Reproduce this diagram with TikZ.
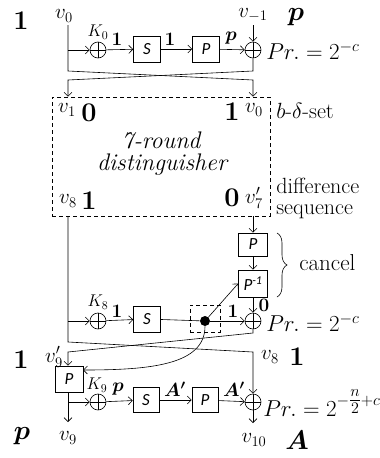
\RequirePackage{fix-cm}
\documentclass[tikz,border=0pt]{standalone}
\usepackage{amsmath,bm}
\usepackage{fontspec}
\newfontfamily\carlito{Carlito}
\usetikzlibrary{arrows.meta,decorations.pathreplacing}
\newcommand\myfs[1]{\fontsize{#1}{#1}\selectfont}
\begin{document}
\begin{tikzpicture}[x=1pt,y=-1pt,
  line width=0.6pt,
  arr/.style={-{Straight Barb[length=4pt,width=8pt]}},
  box/.style={draw, minimum width=27pt, minimum height=26pt, inner sep=0pt, font=\carlito\itshape\myfs{17}},
  xorn/.style={draw, circle, minimum size=16pt, inner sep=0pt,
    path picture={\draw (path picture bounding box.north)--(path picture bounding box.south)
                        (path picture bounding box.east)--(path picture bounding box.west);}},
  vlab/.style={font=\myfs{21}, inner sep=0pt},
  klab/.style={font=\myfs{17}, inner sep=0pt},
  big/.style={font=\bfseries\myfs{27}, inner sep=0pt},
  sml/.style={font=\bfseries\myfs{19}, inner sep=0pt},
  txt/.style={font=\myfs{22}, inner sep=0pt},
  prl/.style={font=\myfs{23}, inner sep=0pt, anchor=west},
  dsh/.style={dash pattern=on 4pt off 3pt},
]
\useasboundingbox[fill=white] (0,0) rectangle (380,458);

% ---------- top round ----------
\node[big] (one1) at (21,21) {1};
\node[vlab] (v0t) at (64,16) {$v_0$};
\node[vlab] (vm1) at (253,15) {$v_{-1}$};
\node[big] (pt) at (296,17) {$\bm{p}$};
\coordinate (t0) at (68,25);
\coordinate (t1) at (253,25);
\node[xorn] (K0) at (98,50) {};
\node[box] (S1) at (147,49) {S};
\node[box] (P1) at (206,49) {P};
\node[xorn] (X1) at (253,50) {};
\node[klab] (k0l) at (98,32) {$K_0$};
\node[sml] (l1a) at (117,39) {1};
\node[sml] (l1b) at (170,39) {1};
\node[sml] (l1c) at (231,38) {$\bm{p}$};
\node[prl] (pr1) at (266,51) {$Pr.=2^{-c}$};

\draw[arr] (K0 -| t0) -- (K0);
\draw[arr] (K0) -- (S1);
\draw[arr] (S1) -- (P1);
\draw[arr] (P1) -- (X1);
\draw[arr] (t1) -- (X1);

% ---------- distinguisher ----------
\node[draw, dsh, minimum width=218pt, minimum height=119pt, inner sep=0pt] (dist) at (161,156.5) {};
\coordinate (c1) at (68,71);
\coordinate (c2) at (253,80);
\coordinate (c3) at (253,71);
\coordinate (c4) at (68,80);
\draw[arr] (t0) -- (c1) -- (c2) -- (dist.north -| X1);
\draw[arr] (X1) -- (c3) -- (c4) -- (dist.north -| t0);

\node[vlab] (v1) at (67,110) {$v_1$};
\node[big] (z1) at (89,113) {0};
\node[big] (o1) at (232,112) {1};
\node[vlab] (v0b) at (254,110) {$v_0$};
\node[txt, anchor=west] (bset) at (276,111) {$b$-$\delta$-set};
\node[font=\itshape\myfs{24}, inner sep=0pt] (r7) at (161,140) {7-round};
\node[font=\itshape\myfs{24}, inner sep=0pt] (dis) at (162,165) {distinguisher};
\node[vlab] (v8a) at (68,201) {$v_8$};
\node[big] (o2) at (89,201) {1};
\node[big] (z2) at (232,198) {0};
\node[vlab] (v7) at (254,198) {$v_7'$};
\node[txt, anchor=west] (diff) at (276,186) {difference};
\node[txt, anchor=west] (seq) at (276,212) {sequence};

% ---------- key recovery round 8 ----------
\node[box, minimum height=23pt, minimum width=29pt] (Pb) at (253,244.5) {P};
\node[box, minimum height=27pt, minimum width=29pt] (Pinv) at (253,283.5) {P\textsuperscript{-1}};
\coordinate (br1) at (277,233);
\coordinate (br2) at (277,297);
\draw[decorate, decoration={brace, amplitude=10pt}] (br1) -- (br2);
\node[font=\myfs{23}, inner sep=0pt, anchor=west] (canc) at (299,263) {cancel};

\node[xorn] (K8) at (98,321) {};
\node[box] (S2) at (147,319) {S};
\node[draw, dsh, minimum width=30pt, minimum height=27pt, inner sep=0pt] (dbox) at (205,318.5) {};
\node[circle, fill=black, minimum size=10pt, inner sep=0pt] (dot) at (205,321) {};
\node[xorn] (X2) at (253,321) {};
\node[klab] (k8l) at (98,302) {$K_8$};
\node[sml] (l2a) at (117,311) {1};
\node[sml] (l2b) at (233,311) {1};
\node[sml] (l2c) at (264,305) {0};
\node[prl] (pr2) at (266,323) {$Pr.=2^{-c}$};

\draw[arr] (dist.south -| X2) -- (Pb);
\draw[arr] (Pb) -- (Pinv);
\draw[arr] (Pinv) -- (X2);
\draw[arr] (K8 -| t0) -- (K8);
\draw[arr] (K8) -- (S2);
\draw (S2) -- (dot);
\draw[arr] (dot) -- (X2);
\draw[arr] (dot) -- (Pinv.west);

% ---------- second cross and last round ----------
\node[big] (one3) at (21,360) {1};
\node[vlab] (v9p) at (54,357) {$v_9'$};
\node[vlab] (v8b) at (270,357) {$v_8$};
\node[big] (one4) at (297,357) {1};
\node[box, minimum width=28pt] (PL) at (69,379) {P};
\node[xorn] (K9) at (98,402) {};
\node[box, minimum width=26pt, minimum height=25pt] (S3) at (146,400) {S};
\node[box, minimum width=26pt, minimum height=25pt] (P3) at (205,400) {P};
\node[xorn] (X3) at (253,402) {};
\node[klab] (k9l) at (97,385) {$K_9$};
\node[sml] (l3a) at (118,389) {$\bm{p}$};
\node[sml] (l3b) at (175,389) {$\bm{A'}$};
\node[sml] (l3c) at (234,389) {$\bm{A'}$};
\node[prl] (pr3) at (263,403) {$Pr.=2^{-\genfrac{}{}{}{1}{n}{2}+c}$};
\coordinate (d1) at (68,342);
\coordinate (d2) at (253,352);
\coordinate (d3) at (253,333);
\coordinate (d4) at (68,352);
\coordinate (cv) at (83,370);
\coordinate (b9) at (68,422);
\coordinate (b10) at (253,423);
\node[big] (pb) at (22,436) {$\bm{p}$};
\node[vlab] (v9) at (68,438) {$v_9$};
\node[vlab] (v10) at (254,440) {$v_{10}$};
\node[big] (Ab) at (297,440) {$\bm{A}$};

\draw[arr] (dist.south -| t0) -- (d1) -- (d2) -- (X3);
\draw[arr] (X2) -- (d3) -- (d4) -- (PL.north -| d4);
\draw[arr] (dot) .. controls (205,365) and (150,370) .. (cv);
\draw[arr] (PL.south -| b9) -- (b9);
\draw[arr] (K9 -| b9) -- (K9);
\draw[arr] (K9) -- (S3);
\draw[arr] (S3) -- (P3);
\draw[arr] (P3) -- (X3);
\draw[arr] (X3) -- (b10);
\end{tikzpicture}
\end{document}
